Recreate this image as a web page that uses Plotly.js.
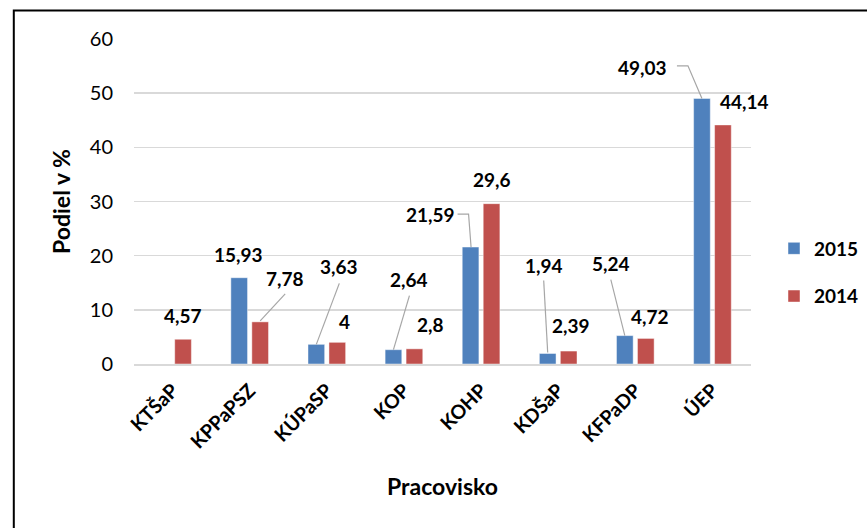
<!DOCTYPE html>
<html><head><meta charset="utf-8">
<script src="https://cdn.plot.ly/plotly-3.0.1.min.js"></script>
<style>html,body{margin:0;padding:0;background:#fff}#chart{width:867px;height:528px}</style>
</head><body><div id="chart"></div>
<script>
// ---- data ----
const categories = ['KTŠaP','KPPaPSZ','KÚPaSP','KOP','KOHP','KDŠaP','KFPaDP','ÚEP'];
const series2015 = [null, 15.93, 3.63, 2.64, 21.59, 1.94, 5.24, 49.03];
const series2014 = [4.57, 7.78, 4, 2.8, 29.6, 2.39, 4.72, 44.14];
const yTicks = [0, 10, 20, 30, 40, 50, 60];
const seriesNames = ['2015', '2014'];

// ---- label placement (pixels relative to bar top; +x right, +y up) ----
const BAR_OFF = 10.5;
const place2015 = [null,
  {dx:-1, dy:23},
  {dx:23, dy:78, lead:[[23,61],[0,0]]},
  {dx:16, dy:70, lead:[[16,54],[0,0]]},
  {dx:-40, dy:33, lead:[[-13,33],[-2,33],[0.5,0]]},
  {dx:-4, dy:88, lead:[[-4,73],[0,1]]},
  {dx:-14, dy:72, lead:[[-14,56],[0,0]]},
  {dx:-59, dy:31, lead:[[-25,32.6],[-14,32.6],[0,0]]}];
const place2014 = [
  {dx:0, dy:24},
  {dx:25, dy:43, lead:[[25,28],[0,1]]},
  {dx:7, dy:21},
  {dx:16, dy:24},
  {dx:0, dy:24},
  {dx:2, dy:26},
  {dx:4, dy:22},
  {dx:21.5, dy:23}];

const FONT = 'Lato, "Open Sans", sans-serif';
const fmt = v => String(v).replace('.', ',');

const traces = [
  {type:'bar', name:seriesNames[0], x:categories, y:series2015, legendgroup:'a',
   marker:{color:'#4F81BD', line:{color:'rgba(255,255,255,0.45)', width:1}}, hoverinfo:'skip'},
  {type:'bar', name:seriesNames[1], x:categories, y:series2014, legendgroup:'b',
   marker:{color:'#C0504D', line:{color:'rgba(255,255,255,0.45)', width:1}}, hoverinfo:'skip'}
];

const annotations = [];
const shapes = [];
function addLabels(vals, places, off) {
  vals.forEach((v, i) => {
    const p = places[i];
    if (v === null || !p) return;
    annotations.push({x:categories[i], y:v, xref:'x', yref:'y', text:fmt(v), showarrow:false,
      xshift: off + p.dx, yshift: p.dy, xanchor:'center', yanchor:'middle',
      font:{family:FONT, size:19, color:'#000', weight:'bold'}});
    if (p.lead) {
      const path = p.lead.map((pt, k) => (k ? 'L' : 'M') + (pt[0] + off) + ',' + pt[1]).join(' ');
      shapes.push({type:'path', xref:'x', yref:'y', xsizemode:'pixel', ysizemode:'pixel',
        xanchor:categories[i], yanchor:v, path:path, line:{color:'#A6A6A6', width:1.2}, layer:'above'});
    }
  });
}
addLabels(series2015, place2015, -BAR_OFF);
addLabels(series2014, place2014, BAR_OFF);

// chart border (outer frame)
const L = 134, R = 116, T = 39, B = 164, W = 867, H = 528;
const pw = W - L - R, ph = H - T - B;
shapes.push({type:'rect', xref:'paper', yref:'paper',
  x0:(13.8 - L)/pw, x1:(900 - L)/pw, y0:(H - B - 560)/ph, y1:(H - B - 10.5)/ph,
  line:{color:'#000', width:2}, fillcolor:'rgba(0,0,0,0)', layer:'below'});

const layout = {
  width:W, height:H, margin:{l:L, r:R, t:T, b:B, autoexpand:false},
  paper_bgcolor:'#fff', plot_bgcolor:'#fff',
  barmode:'group', bargap:0.456, bargroupgap:0.205,
  font:{family:FONT, color:'#000'},
  showlegend:true,
  legend:{x:(774 - L)/pw, xanchor:'left', y:(H - B - 272.5)/ph, yanchor:'middle',
    traceorder:'grouped', tracegroupgap:20,
    font:{family:FONT, size:19, color:'#000', weight:'bold'}, bgcolor:'rgba(0,0,0,0)'},
  xaxis:{type:'category', range:[-0.5, categories.length - 0.5], autorange:false,
    tickangle:-45, ticks:'', showline:true, linecolor:'#D9D9D9', linewidth:1.5,
    tickfont:{family:FONT, size:19.5, color:'#000', weight:'bold'}, ticklabelstandoff:6,
    title:{text:'Pracovisko', font:{family:FONT, size:23, color:'#000', weight:'bold'}, standoff:27},
    fixedrange:true},
  yaxis:{range:[0,60], autorange:false, tickvals:yTicks, ticktext:yTicks.map(String), showgrid:true, gridcolor:'#D9D9D9', gridwidth:1.5,
    zeroline:false, showline:false, ticks:'', ticklabelstandoff:20,
    tickfont:{family:FONT, size:20, color:'#000'},
    title:{text:'Podiel v %', font:{family:FONT, size:23, color:'#000', weight:'bold'}, standoff:12},
    fixedrange:true},
  annotations:annotations, shapes:shapes
};

Plotly.newPlot('chart', traces, layout, {displayModeBar:false, staticPlot:true});
</script>
</body></html>
